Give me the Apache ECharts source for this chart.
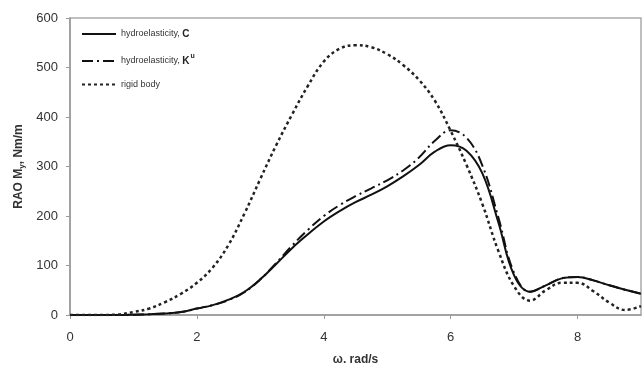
<!DOCTYPE html>
<html>
<head>
<meta charset="utf-8">
<script src="https://cdn.jsdelivr.net/npm/echarts@6/dist/echarts.min.js"></script>
<style>
  html, body { margin: 0; padding: 0; background: #fff; }
  #raoChart { width: 642px; height: 366px; }
</style>
</head>
<body>
<div id="raoChart"></div>
<script>
  // omega, rad/s (step 0.25)
  const omega = [0, 0.25, 0.5, 0.75, 1, 1.25, 1.5, 1.75, 2, 2.25, 2.5, 2.75, 3, 3.25, 3.5, 3.75,
    4, 4.25, 4.5, 4.75, 5, 5.25, 5.5, 5.75, 6, 6.25, 6.5, 6.75, 7, 7.25, 7.5, 7.75, 8, 8.25, 8.5, 8.75, 9];

  // RAO My, Nm/m
  const hydroC = [0, 0, 0, 0, 0.5, 1.5, 3, 6, 13, 20, 31, 47, 72, 103, 135, 163,
    189, 210, 228, 243, 260, 280, 303, 330, 343, 332, 286, 188, 80, 47, 60, 74, 77, 70, 60, 51, 43];
  const hydroKu = [0, 0, 0, 0, 0.5, 1.5, 3, 6, 13, 20, 30, 46, 72, 105, 140, 172,
    200, 222, 240, 256, 272, 292, 318, 352, 373, 358, 302, 198, 85, 47, 60, 74, 77, 70, 60, 51, 43];
  const rigidBody = [0, 0, 0, 1, 6, 13, 26, 43, 65, 96, 142, 205, 275, 343, 405, 463,
    512, 538, 545, 541, 527, 505, 475, 433, 372, 303, 224, 130, 58, 29, 50, 65, 65, 48, 25, 10, 18];

  const xTicks = ['0', '2', '4', '6', '8'];

  function pairs(vals) {
    return omega.map((w, i) => [w, vals[i]]);
  }

  const chart = echarts.init(document.getElementById('raoChart'));

  const option = {
    animation: false,
    backgroundColor: '#fff',
    textStyle: { fontFamily: 'Liberation Sans, Arial, sans-serif' },
    grid: {
      left: 70,
      right: 1,
      top: 18,
      bottom: 51,
      containLabel: false,
      outerBoundsMode: 'none',
      show: true,
      borderColor: '#aaa',
      borderWidth: 1.5
    },
    legend: {
      orient: 'vertical',
      left: 76,
      top: 24,
      itemWidth: 34,
      itemHeight: 10,
      itemGap: 14,
      itemStyle: { opacity: 0, borderWidth: 0 },
      textStyle: {
        fontSize: 9,
        color: '#333',
        rich: {
          b: { fontSize: 10, fontWeight: 'bold', color: '#222' },
          sup: { fontSize: 7, fontWeight: 'bold', color: '#222', padding: [0, 0, 9, 1] }
        }
      },
      formatter: function (name) {
        if (name === 'hydroelasticity, C') return 'hydroelasticity, {b|C}';
        if (name === 'hydroelasticity, Ku') return 'hydroelasticity, {b|K}{sup|u}';
        return name;
      },
      data: ['hydroelasticity, C', 'hydroelasticity, Ku', 'rigid body']
    },
    xAxis: {
      type: 'value',
      min: 0,
      max: 9,
      interval: 2,
      name: 'ω. rad/s',
      nameLocation: 'middle',
      nameGap: 39,
      nameTextStyle: { fontSize: 12, fontWeight: 'bold', color: '#333' },
      axisLine: { lineStyle: { color: '#999', width: 1.5 } },
      axisTick: { show: true, length: 4, lineStyle: { color: '#999' } },
      axisLabel: {
        fontSize: 13,
        color: '#333',
        margin: 16,
        showMaxLabel: false,
        formatter: function (v) {
          const s = String(v);
          return xTicks.indexOf(s) >= 0 ? s : '';
        }
      },
      splitLine: { show: false }
    },
    yAxis: {
      type: 'value',
      min: 0,
      max: 600,
      interval: 100,
      name: '{a|RAO M}{s|y}{a|, Nm/m}',
      nameLocation: 'middle',
      nameRotate: 90,
      nameGap: 44,
      nameTextStyle: {
        rich: {
          a: { fontSize: 12, fontWeight: 'bold', color: '#333' },
          s: { fontSize: 8, fontWeight: 'bold', color: '#333', padding: [6, 0, 0, 0] }
        }
      },
      axisLine: { show: true, lineStyle: { color: '#999', width: 1.5 } },
      axisTick: { show: true, length: 4, lineStyle: { color: '#999' } },
      axisLabel: { fontSize: 13, color: '#333', margin: 12 },
      splitLine: { show: false }
    },
    series: [
      {
        name: 'hydroelasticity, C',
        type: 'line',
        data: pairs(hydroC),
        smooth: 0.4,
        symbol: 'none',
        lineStyle: { color: '#111', width: 2, type: 'solid' },
        itemStyle: { color: '#111' }
      },
      {
        name: 'hydroelasticity, Ku',
        type: 'line',
        data: pairs(hydroKu),
        smooth: 0.4,
        symbol: 'none',
        lineStyle: { color: '#111', width: 2, type: [11, 4, 2, 4] },
        itemStyle: { color: '#111' }
      },
      {
        name: 'rigid body',
        type: 'line',
        data: pairs(rigidBody),
        smooth: 0.4,
        symbol: 'none',
        lineStyle: { color: '#222', width: 2.5, type: [3, 3] },
        itemStyle: { color: '#222' }
      }
    ]
  };

  chart.setOption(option);
</script>
</body>
</html>
